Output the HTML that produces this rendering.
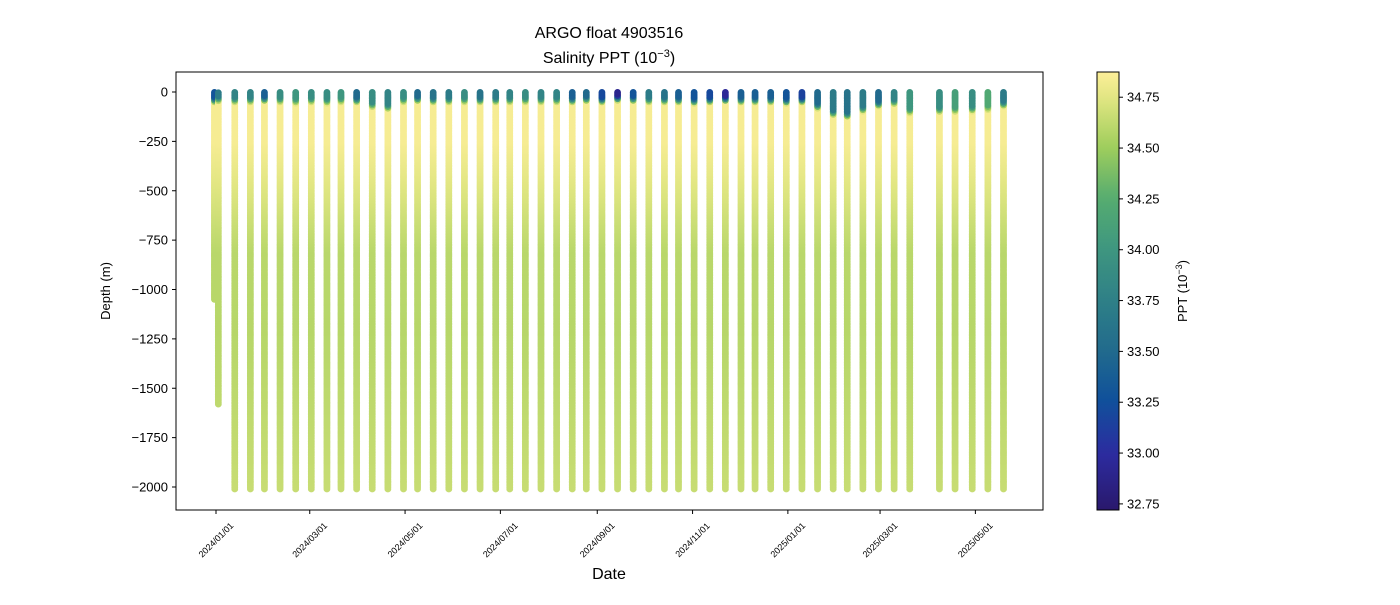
<!DOCTYPE html>
<html><head><meta charset="utf-8"><style>
body{margin:0;background:#fff}
svg text{font-family:"Liberation Sans","DejaVu Sans",sans-serif;fill:#000}
</style></head><body>
<svg id="chart" width="1400" height="600" viewBox="0 0 1400 600" xmlns="http://www.w3.org/2000/svg">
<rect width="1400" height="600" fill="#fff"/>
<text x="609" y="38" font-size="16" text-anchor="middle">ARGO float 4903516</text>
<text x="609" y="63" font-size="16" text-anchor="middle">Salinity PPT (10<tspan baseline-shift="super" font-size="11">−3</tspan>)</text>
<g id="marks"></g>
<rect x="176" y="72" width="867" height="438" fill="none" stroke="#000" stroke-width="1"/>
<g id="yaxis"></g>
<g id="xaxis"></g>
<text transform="translate(110,291) rotate(-90)" font-size="13" text-anchor="middle">Depth (m)</text>
<text x="609" y="579" font-size="16" text-anchor="middle">Date</text>
<defs><linearGradient id="cbg" x1="0" y1="1" x2="0" y2="0"></linearGradient></defs>
<rect x="1097" y="72" width="22" height="438" fill="url(#cbg)" stroke="#000" stroke-width="1"/>
<g id="cbaxis"></g>
<text transform="translate(1187,291) rotate(-90)" font-size="13" text-anchor="middle">PPT (10<tspan baseline-shift="super" font-size="9">−3</tspan>)</text>
</svg>
<script>
const days=[-1,1.5,12,22,31,41,51,61,71,80,90,100,110,120,129,139,149,159,169,179,188,198,208,218,228,237,247,257,267,277,287,296,306,316,326,336,345,355,365,375,385,395,404,414,424,434,444,463,473,484,494,504];
const maxDepth=[1050,1580,2010,2010,2010,2010,2010,2010,2010,2010,2010,2010,2010,2010,2010,2010,2010,2010,2010,2010,2010,2010,2010,2010,2010,2010,2010,2010,2010,2010,2010,2010,2010,2010,2010,2010,2010,2010,2010,2010,2010,2010,2010,2010,2010,2010,2010,2010,2010,2010,2010,2010];
const surfSal=[33.3,33.7,33.8,33.8,33.4,33.9,34.0,33.9,33.9,34.0,33.5,33.9,33.8,33.9,33.5,33.6,33.7,33.9,33.6,33.7,33.8,33.9,33.8,33.8,33.4,33.5,33.2,32.9,33.3,33.7,33.6,33.4,33.3,33.2,32.95,33.4,33.4,33.4,33.3,33.15,33.5,33.7,33.6,33.7,33.5,33.8,34.0,33.9,34.1,33.9,34.2,33.7];
const mixedLayer=[25,20,25,25,20,25,30,25,30,25,25,50,60,25,20,25,25,25,25,25,25,25,25,25,25,20,25,15,20,25,25,25,30,25,20,25,25,25,30,25,55,90,100,70,45,35,80,75,75,70,65,45];
const yTicks=[0,-250,-500,-750,-1000,-1250,-1500,-1750,-2000];
const xTickDays=[0,60,121,182,244,305,366,425,486];
const xTickLabels=["2024/01/01","2024/03/01","2024/05/01","2024/07/01","2024/09/01","2024/11/01","2025/01/01","2025/03/01","2025/05/01"];
const cbTicks=[32.75,33.00,33.25,33.50,33.75,34.00,34.25,34.50,34.75];
const NS="http://www.w3.org/2000/svg";
const xS=d=>216+d*1.5625;
const yS=v=>92+(-v)*(395/2000);
const cMin=32.72,cMax=34.874;
const cbY=v=>510-(v-cMin)/(cMax-cMin)*438;
const stops=[[0,[42,24,108]],[0.13,[44,44,160]],[0.25,[16,80,155]],[0.37,[34,108,140]],[0.48,[47,128,135]],[0.6,[63,151,127]],[0.71,[85,172,112]],[0.83,[160,206,92]],[0.94,[225,230,130]],[1,[253,238,153]]];
function cmap(v){let t=(v-cMin)/(cMax-cMin);t=Math.max(0,Math.min(1,t));
 for(let i=1;i<stops.length;i++){if(t<=stops[i][0]){const a=stops[i-1],b=stops[i];const f=(t-a[0])/(b[0]-a[0]);
 return 'rgb('+a[1].map((c,k)=>Math.round(c+(b[1][k]-c)*f)).join(',')+')';}}return 'rgb(253,238,153)';}
function sal(z,s0,mld){
 if(z<mld) return s0;
 if(z<mld+30){const f=(z-mld)/30;return s0+(34.84-s0)*f;}
 if(z<250) return 34.84;
 if(z<800) return 34.84-(z-250)/550*0.24;
 if(z<1200) return 34.60-(z-800)/400*0.01;
 return 34.59+(z-1200)/800*0.06;}
const marks=document.getElementById('marks');
for(let i=0;i<days.length;i++){
 const g=document.createElementNS(NS,'g');
 
 
 for(let z=maxDepth[i];z>=0;z-=8){
  const c=document.createElementNS(NS,'circle');
  c.setAttribute('cx',xS(days[i]));c.setAttribute('cy',yS(-z));c.setAttribute('r',3.4);
  c.setAttribute('fill',cmap(sal(z,surfSal[i],mixedLayer[i])));
  g.appendChild(c);}
 marks.appendChild(g);}
const ya=document.getElementById('yaxis');
yTicks.forEach(v=>{const y=yS(v);
 const l=document.createElementNS(NS,'line');
 
 
 l.setAttribute('x1',172);l.setAttribute('x2',176);l.setAttribute('y1',y);l.setAttribute('y2',y);l.setAttribute('stroke','#000');ya.appendChild(l);
 const t=document.createElementNS(NS,'text');
 
 
 t.setAttribute('x',168);t.setAttribute('y',y+4.5);t.setAttribute('font-size','13');t.setAttribute('text-anchor','end');
 t.textContent=v===0?'0':'−'+Math.abs(v);ya.appendChild(t);});
const xa=document.getElementById('xaxis');
xTickDays.forEach((d,i)=>{const x=xS(d);
 const l=document.createElementNS(NS,'line');
 
 
 l.setAttribute('x1',x);l.setAttribute('x2',x);l.setAttribute('y1',510);l.setAttribute('y2',514);l.setAttribute('stroke','#000');xa.appendChild(l);
 const t=document.createElementNS(NS,'text');
 
 
 t.setAttribute('transform','translate('+x+',540) rotate(-45)');t.setAttribute('font-size','9');t.setAttribute('text-anchor','middle');t.setAttribute('dy','3');
 t.textContent=xTickLabels[i];xa.appendChild(t);});
const grad=document.getElementById('cbg');
for(let k=0;k<=40;k++){const v=cMin+(cMax-cMin)*k/40;
 const s=document.createElementNS(NS,'stop');s.setAttribute('offset',(k/40));s.setAttribute('stop-color',cmap(v));grad.appendChild(s);}
const ca=document.getElementById('cbaxis');
cbTicks.forEach(v=>{const y=cbY(v);
 const l=document.createElementNS(NS,'line');
 
 
 l.setAttribute('x1',1119);l.setAttribute('x2',1123);l.setAttribute('y1',y);l.setAttribute('y2',y);l.setAttribute('stroke','#000');ca.appendChild(l);
 const t=document.createElementNS(NS,'text');
 
 
 t.setAttribute('x',1127);t.setAttribute('y',y+4.5);t.setAttribute('font-size','13');
 t.textContent=v.toFixed(2);ca.appendChild(t);});
</script>
</body></html>
